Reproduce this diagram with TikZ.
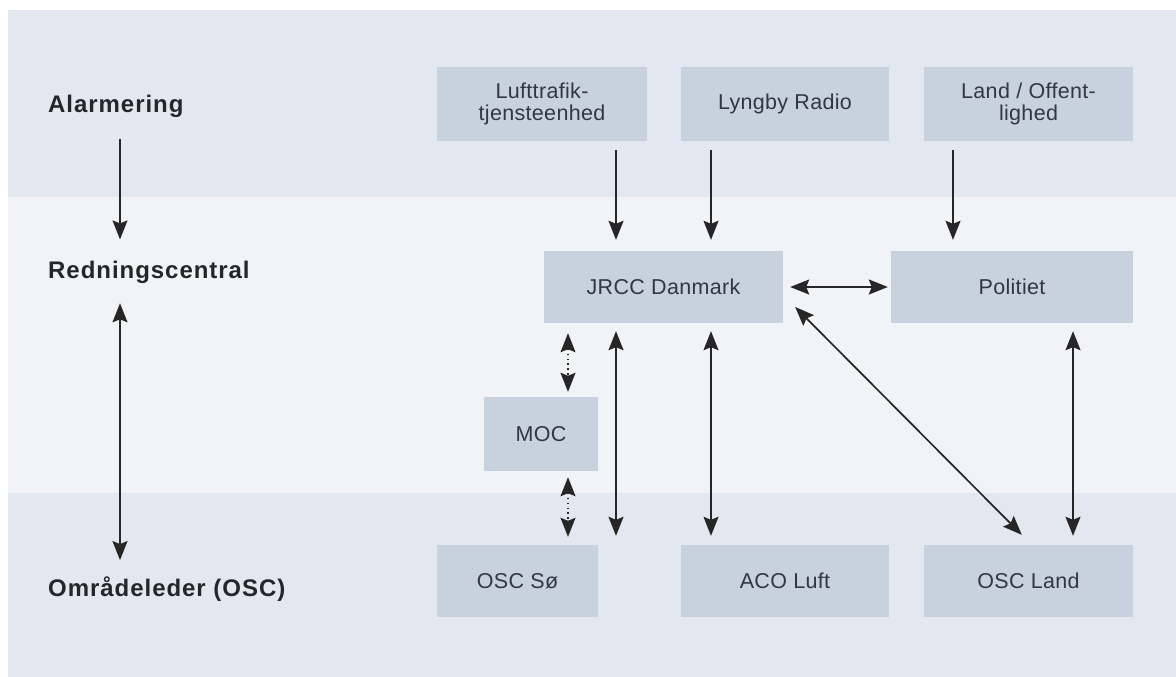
\documentclass[tikz,border=0pt]{standalone}
\usepackage{fontspec}
\setsansfont{Liberation Sans}
\usetikzlibrary{arrows.meta}
\definecolor{bandgray}{RGB}{227,231,240}
\definecolor{bandlight}{RGB}{241,243,247}
\definecolor{boxgray}{RGB}{200,209,222}
\definecolor{boxtext}{RGB}{50,55,64}
\definecolor{lbltext}{RGB}{36,38,42}

\begin{document}
\begin{tikzpicture}[x=1pt,y=-1pt,
    >={Stealth[length=19pt,width=15pt,inset=3pt]},
    box/.style={fill=boxgray,text=boxtext,align=center,inner sep=0pt,
      minimum height=72pt,
      font=\sffamily\addfontfeatures{LetterSpace=1.5}\fontsize{21.5}{22}\selectfont},
    lbl/.style={anchor=base west,inner sep=0pt,text=lbltext,
      font=\sffamily\bfseries\addfontfeatures{LetterSpace=4}\fontsize{24}{26}\selectfont},
    arr/.style={line width=1.7pt,black!85},
    dotarr/.style={arr,line width=1.4pt,dash pattern=on 1.4pt off 3.5pt}]
  \useasboundingbox (0,0) rectangle (1176,677);
  % background bands
  \fill[bandgray] (8,10) rectangle (1176,197);
  \fill[bandlight] (8,197) rectangle (1176,493);
  \fill[bandgray] (8,493) rectangle (1176,677);
  % level labels
  \node[lbl] (alarm) at (48,112) {Alarmering};
  \node[lbl] (redn) at (48,278) {Redningscentral};
  \node[lbl] (omr) at (48,596) {Områdeleder (OSC)};
  % boxes
  \node[box,minimum width=210pt,minimum height=74pt] (luft) at (542,104) {Lufttrafik-\\tjensteenhed};
  \node[box,minimum width=208pt,minimum height=74pt] (lyngby) at (785,104) {Lyngby Radio};
  \node[box,minimum width=209pt,minimum height=74pt] (land) at (1028.5,104) {Land / Offent-\\lighed};
  \node[box,minimum width=239pt] (jrcc) at (663.5,287) {JRCC Danmark};
  \node[box,minimum width=242pt] (politi) at (1012,287) {Politiet};
  \node[box,minimum width=114pt,minimum height=74pt] (moc) at (541,434) {MOC};
  \node[box,minimum width=161pt] (oscso) at (517.5,581) {OSC Sø};
  \node[box,minimum width=208pt] (aco) at (785,581) {ACO Luft};
  \node[box,minimum width=209pt] (oscland) at (1028.5,581) {OSC Land};
  % columns for the vertical arrows
  \coordinate (ca) at (120,0);
  \coordinate (c1) at (616,0);
  \coordinate (c2) at (711,0);
  \coordinate (c3) at (953,0);
  \coordinate (c4) at (1073,0);
  \coordinate (cm) at (568,0);
  % left side
  \draw[arr,->,shorten <=22pt,shorten >=21pt] (alarm.south -| ca) -- (redn.north -| ca);
  \draw[arr,<->,shorten <=20pt,shorten >=16pt] (redn.south -| ca) -- (omr.north -| ca);
  % alarm to centrals
  \foreach \src/\dst/\col in {luft/jrcc/c1,lyngby/jrcc/c2,land/politi/c3}{%
    \draw[arr,->,shorten <=9pt,shorten >=11pt] (\src.south -| \col) -- (\dst.north -| \col);}
  \draw[arr,<->,shorten <=7pt,shorten >=3pt] (jrcc.east) -- (politi.west);
  % centrals to OSC
  \foreach \src/\dst/\col in {jrcc/oscso/c1,jrcc/aco/c2,politi/oscland/c4}{%
    \draw[arr,<->,shorten <=8pt,shorten >=9pt] (\src.south -| \col) -- (\dst.north -| \col);}
  \draw[arr,<->] ([xshift=12pt,yshift=-20pt]jrcc.east) -- ([xshift=98pt,yshift=10pt]oscland.north west);
  % via MOC
  \draw[dotarr,<->,shorten <=10pt,shorten >=5pt] (jrcc.south -| cm) -- (moc.north -| cm);
  \draw[dotarr,<->,shorten <=6pt,shorten >=8pt] (moc.south -| cm) -- (oscso.north -| cm);
\end{tikzpicture}
\end{document}
